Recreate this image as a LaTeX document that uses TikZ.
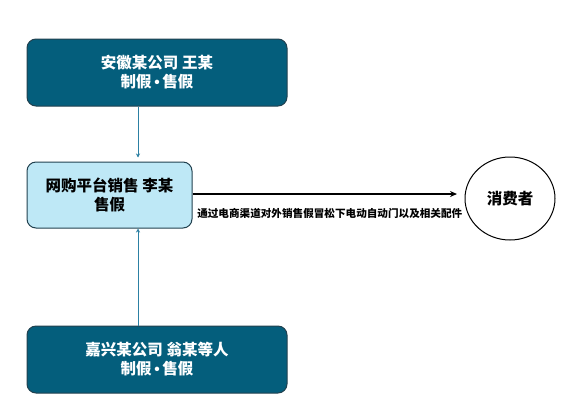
\documentclass[tikz,border=0pt]{standalone}
\usepackage{fontspec}
\setmainfont{Noto Sans CJK SC}
\newfontfamily\latinfont{Liberation Sans}
\usepackage{xcolor}
\usepackage{tikz}
\usetikzlibrary{arrows.meta,shapes.geometric}

\definecolor{darkteal}{HTML}{045E7C}
\definecolor{lightteal}{HTML}{BEE8F6}
\definecolor{edgeteal}{HTML}{22414F}
\definecolor{linkteal}{HTML}{2C80A3}
\newcommand{\dotsep}{{\latinfont\bfseries\,•\,}}

\begin{document}
\begin{tikzpicture}[x=1pt,y=-1pt,
    party/.style={rounded corners=9pt, draw=edgeteal, line width=1pt, fill=darkteal,
      text=white, font=\fontsize{15.5}{19}\selectfont\bfseries, align=center,
      minimum width=260pt, minimum height=67pt},
    shop/.style={party, fill=lightteal, text=black, minimum width=165pt, minimum height=66pt},
    link/.style={-{Stealth[length=4pt,width=4pt]}, linkteal, line width=1pt}]
    \useasboundingbox (0,0) rectangle (577,413);
    \node [party] (anhui) at (157,72.5) {安徽某公司 王某\\制假\dotsep 售假};
    \node [shop] (shop) at (109.5,195) {网购平台销售 李某\\售假};
    \node [party] (jiaxing) at (157,359.5) {嘉兴某公司 翁某等人\\制假\dotsep 售假};
    \node [ellipse, draw, line width=1pt, minimum width=90pt, minimum height=83pt,
      font=\fontsize{15.5}{19}\selectfont\bfseries] (buyer) at (510,198.5) {消费者};
    \coordinate (tip) at (457,194);
    % 供货
    \draw [link, shorten >=4pt] ([xshift=-19pt]anhui.south) -- ([xshift=-19pt]anhui.south |- shop.north);
    \draw [link] ([xshift=-19pt]jiaxing.north) -- ([xshift=-19pt]jiaxing.north |- shop.south);
    % 销售
    \draw [-{Stealth[length=7pt,width=6pt]}, line width=1.5pt] (shop.east |- tip) -- (tip)
      node [midway, below, xshift=5pt, yshift=-10pt, font=\fontsize{10.6}{12}\selectfont\bfseries]
      {通过电商渠道对外销售假冒松下电动自动门以及相关配件};
\end{tikzpicture}
\end{document}
